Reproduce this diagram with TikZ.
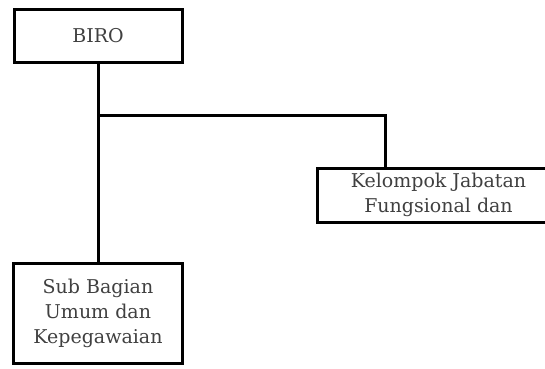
\documentclass[tikz,border=0pt]{standalone}
\usepackage{fontspec}
\setmainfont{DejaVu Serif}
\usetikzlibrary{positioning}
\tikzset{
    unitbox/.style = {rectangle, draw=black, line width=3pt, align=center, inner sep=0pt,
                      text=black!75, font=\fontsize{19}{25}\selectfont},
    link/.style = {line width=3pt, draw=black}
}
\begin{document}
\begin{tikzpicture}[x=1pt,y=-1pt]
  \useasboundingbox (0,0) rectangle (545,368);
  \node[unitbox, minimum width=168, minimum height=53] (biro) at (98,35.5) {BIRO};
  \node[unitbox, minimum width=169, minimum height=100] (subbag) at (98,313) {Sub Bagian\\Umum dan\\Kepegawaian};
  \node[unitbox, minimum width=243, minimum height=54] (fungsional) at (438.5,195) {Kelompok Jabatan\\Fungsional dan};

  \coordinate (split) at (98,115);
  \coordinate (ftop) at (385,168);
  \draw[link] (biro.south) -- (subbag.north);
  \draw[link] (split) -| (ftop);
\end{tikzpicture}
\end{document}
